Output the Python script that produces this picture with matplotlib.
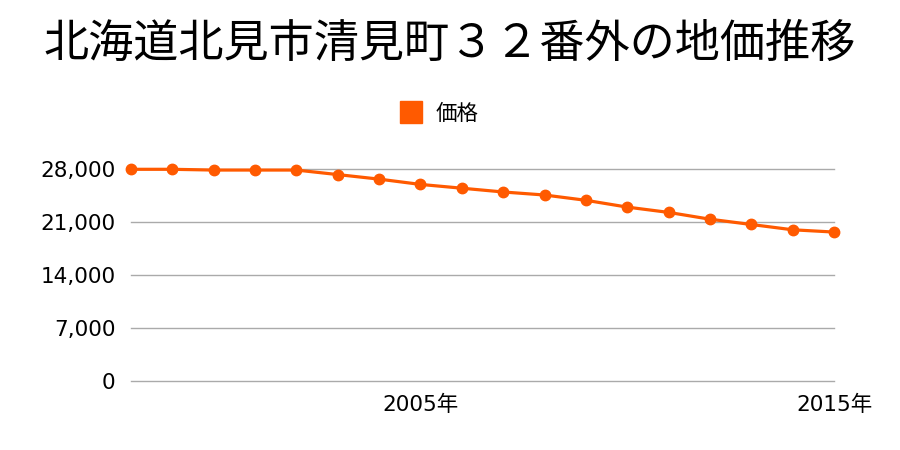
import matplotlib
matplotlib.use("Agg")
import matplotlib.pyplot as plt
from matplotlib.lines import Line2D

plt.rcParams['font.family'] = ['Noto Sans CJK JP', 'DejaVu Sans']

years = list(range(1998, 2016))
prices = [28000, 28000, 27900, 27900, 27900, 27300, 26700, 26000, 25500,
          25000, 24600, 23900, 23000, 22300, 21400, 20700, 20000, 19700]
yticks = [0, 7000, 14000, 21000, 28000]
xticks = [2005, 2015]
title = "北海道北見市清見町３２番外の地価推移"
series_name = "価格"
color = "#ff5a00"

fig = plt.figure(figsize=(9, 4.5), dpi=100)
ax = fig.add_axes([131 / 900, 1 - 381 / 450, (834 - 131) / 900,
                   (381 - 169.3) / 450])

ax.plot(years, prices, color=color, linewidth=2.3, marker='o',
        markersize=7.5, clip_on=False, zorder=3)

ax.set_xlim(years[0], years[-1])
ax.set_ylim(0, 28000)
ax.set_yticks(yticks)
ax.set_yticklabels([f"{v:,}" for v in yticks])
ax.set_xticks(xticks)
ax.set_xticklabels([f"{y}年" for y in xticks])
tick_font = ['DejaVu Sans', 'Noto Sans CJK JP']
for lab in ax.get_xticklabels() + ax.get_yticklabels():
    lab.set_family(tick_font)
    lab.set_fontsize(15.5)
ax.tick_params(length=0, colors='black')
ax.tick_params(axis='y', pad=11)
ax.tick_params(axis='x', pad=10)
for g in yticks:
    ax.axhline(g, color='#aaaaaa', linewidth=1, clip_on=False, zorder=1)
for s in ax.spines.values():
    s.set_visible(False)

fig.text(0.5, 1 - 44 / 450, title, ha='center', va='center', fontsize=32.5)

handle = Line2D([], [], color=color, marker='s', linestyle='none',
                markersize=16.5)
fig.legend([handle], [series_name], loc='center',
           bbox_to_anchor=(437 / 900, 1 - 114 / 450), frameon=False,
           fontsize=15.5, handlelength=1.5, handletextpad=0.4)

fig.savefig("out.png", dpi=100)
